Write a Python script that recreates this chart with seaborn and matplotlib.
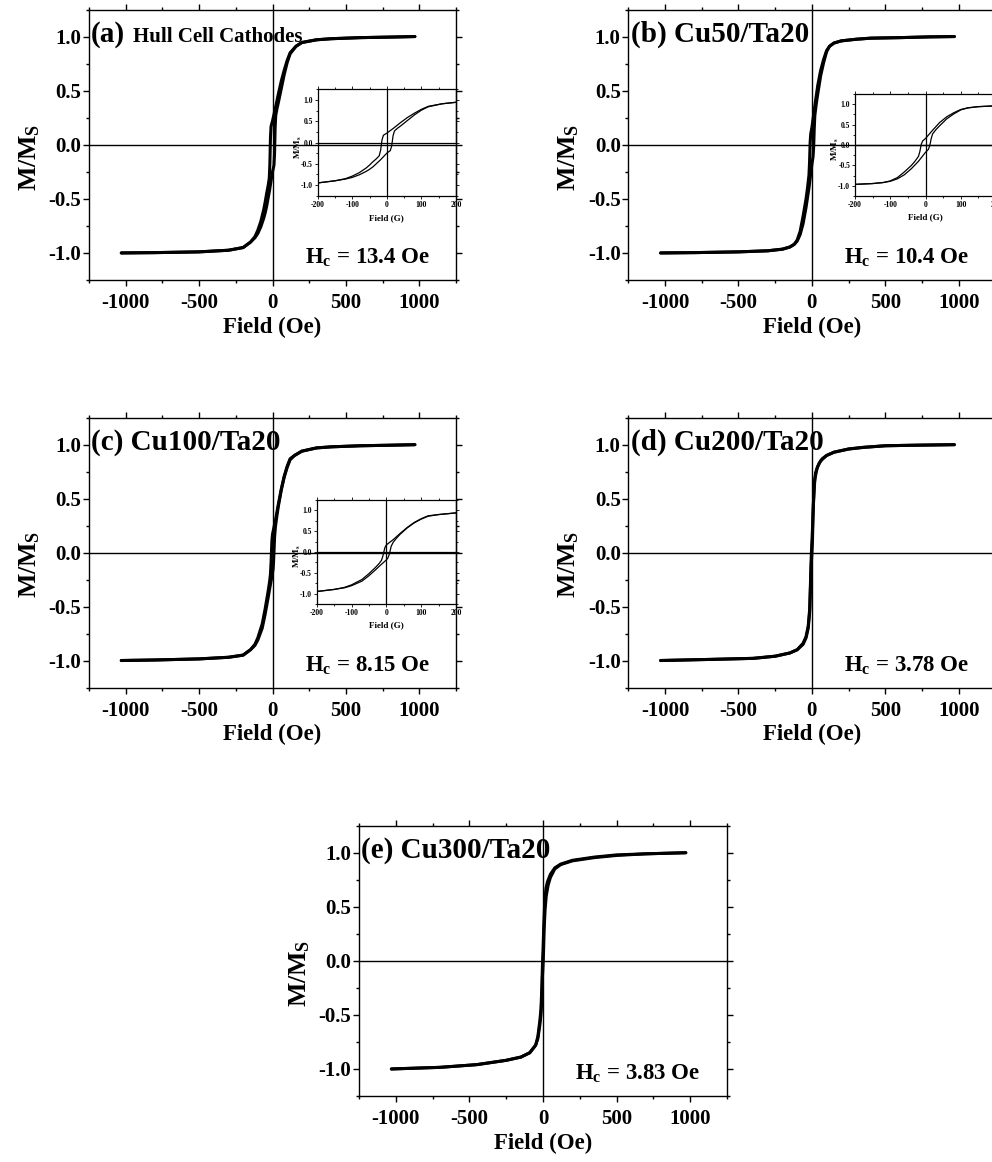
import matplotlib
matplotlib.use("Agg")
import matplotlib.pyplot as plt
from matplotlib.ticker import FixedLocator, MultipleLocator
import pandas as pd
import seaborn as sns

# ---------------- measured hysteresis branches (field in Oe, M/Ms) ----------------
# (a) Hull cell cathodes
a_h_desc = [970, 800, 600, 400, 300, 200, 160, 120, 100, 80, 60, 40, 20, 0, -10, -14, -18, -22, -30,
            -40, -50, -60, -80, -100, -120, -150, -200, -300, -500, -800, -1030]
a_m_desc = [1.00, 0.995, 0.99, 0.98, 0.97, 0.945, 0.91, 0.85, 0.78, 0.69, 0.59, 0.47, 0.34, 0.22, 0.17,
            0.06, -0.18, -0.31, -0.38, -0.45, -0.53, -0.60, -0.71, -0.79, -0.85, -0.90, -0.95, -0.975,
            -0.99, -0.997, -1.00]
a_h_asc = [-1030, -800, -500, -300, -200, -150, -120, -100, -80, -60, -50, -40, -20, 0, 10, 14, 18, 22,
           30, 40, 60, 80, 100, 120, 160, 200, 300, 400, 600, 800, 970]
a_m_asc = [-1.00, -0.997, -0.99, -0.975, -0.95, -0.90, -0.86, -0.82, -0.76, -0.68, -0.63, -0.57, -0.42,
           -0.25, -0.19, -0.08, 0.16, 0.27, 0.33, 0.39, 0.52, 0.65, 0.76, 0.84, 0.91, 0.945, 0.97, 0.98,
           0.99, 0.995, 1.00]

# (b) Cu50/Ta20
b_h_desc = [970, 800, 600, 400, 300, 200, 150, 120, 100, 80, 60, 40, 20, 0, -8, -12, -16, -20, -30, -40,
            -60, -80, -100, -120, -150, -200, -300, -500, -800, -1030]
b_m_desc = [1.00, 0.997, 0.99, 0.985, 0.975, 0.96, 0.94, 0.91, 0.87, 0.79, 0.69, 0.55, 0.36, 0.16, 0.10,
            0.02, -0.16, -0.28, -0.40, -0.50, -0.66, -0.80, -0.88, -0.92, -0.945, -0.965, -0.98, -0.99,
            -0.997, -1.00]
b_h_asc = [-1030, -800, -500, -300, -200, -150, -120, -100, -80, -60, -40, -20, 0, 8, 12, 16, 20, 30, 40,
           60, 80, 100, 120, 150, 200, 300, 400, 600, 800, 970]
b_m_asc = [-1.00, -0.997, -0.99, -0.98, -0.965, -0.945, -0.92, -0.89, -0.83, -0.73, -0.58, -0.40, -0.18,
           -0.11, -0.02, 0.15, 0.27, 0.38, 0.47, 0.64, 0.76, 0.86, 0.91, 0.94, 0.96, 0.975, 0.985, 0.99,
           0.997, 1.00]

# (c) Cu100/Ta20
c_h_desc = [970, 800, 600, 400, 300, 200, 150, 120, 100, 80, 60, 40, 20, 0, -4, -7, -10, -14, -20, -30,
            -50, -70, -100, -120, -150, -200, -300, -500, -800, -1030]
c_m_desc = [1.00, 0.995, 0.99, 0.98, 0.97, 0.94, 0.90, 0.87, 0.80, 0.71, 0.59, 0.45, 0.30, 0.17, 0.11,
            0.01, -0.10, -0.20, -0.27, -0.36, -0.52, -0.66, -0.79, -0.85, -0.90, -0.95, -0.97, -0.985,
            -0.995, -1.00]
c_h_asc = [-1030, -800, -500, -300, -200, -150, -120, -100, -70, -50, -30, -20, 0, 4, 7, 10, 14, 20, 30,
           40, 60, 80, 100, 120, 150, 200, 300, 400, 600, 800, 970]
c_m_asc = [-1.00, -0.995, -0.985, -0.97, -0.95, -0.90, -0.86, -0.81, -0.70, -0.57, -0.42, -0.34, -0.19,
           -0.15, -0.09, 0.00, 0.14, 0.24, 0.34, 0.43, 0.58, 0.70, 0.79, 0.86, 0.90, 0.94, 0.97, 0.98,
           0.99, 0.995, 1.00]

# (d) Cu200/Ta20
d_h_desc = [970, 700, 500, 350, 250, 150, 100, 70, 50, 35, 20, 10, 4, 0, -4, -8, -15, -25, -40, -60,
            -100, -150, -250, -400, -700, -1030]
d_m_desc = [1.00, 0.995, 0.99, 0.975, 0.96, 0.93, 0.90, 0.87, 0.83, 0.78, 0.68, 0.45, 0.22, 0.10, -0.02,
            -0.20, -0.52, -0.68, -0.78, -0.84, -0.90, -0.93, -0.96, -0.98, -0.99, -1.00]
d_h_asc = [-1030, -700, -400, -250, -150, -100, -60, -40, -25, -15, -8, -4, 0, 4, 8, 15, 25, 40, 60, 100,
           150, 250, 350, 500, 700, 970]
d_m_asc = [-1.00, -0.99, -0.98, -0.96, -0.93, -0.90, -0.85, -0.79, -0.70, -0.55, -0.25, -0.10, 0.00,
           0.12, 0.35, 0.62, 0.74, 0.80, 0.85, 0.90, 0.93, 0.96, 0.975, 0.99, 0.995, 1.00]

# (e) Cu300/Ta20
e_h_desc = [970, 700, 500, 350, 200, 120, 80, 50, 30, 20, 12, 6, 0, -4, -8, -14, -22, -35, -50, -90,
            -150, -250, -450, -700, -1030]
e_m_desc = [1.00, 0.99, 0.98, 0.96, 0.93, 0.895, 0.86, 0.80, 0.73, 0.67, 0.55, 0.35, 0.10, -0.05, -0.25,
            -0.45, -0.56, -0.70, -0.78, -0.85, -0.89, -0.92, -0.96, -0.985, -1.00]
e_h_asc = [-1030, -700, -450, -250, -150, -90, -50, -35, -22, -14, -8, -4, 0, 4, 8, 14, 22, 35, 50, 80,
           120, 200, 350, 500, 700, 970]
e_m_asc = [-1.00, -0.985, -0.96, -0.92, -0.89, -0.85, -0.78, -0.72, -0.60, -0.50, -0.35, -0.15, -0.05,
           0.10, 0.30, 0.47, 0.60, 0.70, 0.77, 0.85, 0.89, 0.925, 0.955, 0.975, 0.99, 1.00]

panel_titles = ["(a)", "(b) Cu50/Ta20", "(c) Cu100/Ta20", "(d) Cu200/Ta20", "(e) Cu300/Ta20"]
subtitle_a = "Hull Cell Cathodes"
coercivity = ["13.4", "10.4", "8.15", "3.78", "3.83"]

main_xticks = [-1000, -500, 0, 500, 1000]
main_yticks = [-1.0, -0.5, 0.0, 0.5, 1.0]
inset_xticks = [-200, -100, 0, 100, 200]

# ---------------- style ----------------
sns.set_theme(style="ticks")
plt.rcParams.update({
    "font.family": ["Liberation Serif", "DejaVu Serif"],
    "font.weight": "bold",
    "axes.labelweight": "bold",
    "mathtext.fontset": "custom",
    "mathtext.rm": "Liberation Serif:bold",
    "mathtext.bf": "Liberation Serif:bold",
    "mathtext.it": "Liberation Serif:bold:italic",
    "axes.unicode_minus": False,
    "axes.edgecolor": "black",
    "axes.linewidth": 1.0,
    "xtick.color": "black",
    "ytick.color": "black",
    "text.color": "black",
    "axes.labelcolor": "black",
})

W, H = 992, 1162
fig = plt.figure(figsize=(W / 100, H / 100), dpi=100)
fig.patch.set_facecolor("white")


def rect(left, top, right, bottom):
    return [left / W, 1 - bottom / H, (right - left) / W, (bottom - top) / H]


def loop_frame(h_desc, m_desc, h_asc, m_asc):
    return pd.concat([
        pd.DataFrame({"field": h_desc, "m": m_desc, "branch": "desc"}),
        pd.DataFrame({"field": h_asc, "m": m_asc, "branch": "asc"}),
    ], ignore_index=True)


def draw_main(box, df, title, hc):
    ax = fig.add_axes(rect(*box))
    ax.set_facecolor("white")
    ax.axhline(0, color="black", lw=1.0, zorder=1)
    ax.axvline(0, color="black", lw=1.0, zorder=1)
    sns.lineplot(data=df, x="field", y="m", units="branch", estimator=None, sort=False,
                 color="black", lw=2.2, ax=ax, zorder=3)
    ax.set_xlim(-1250, 1250)
    ax.set_ylim(-1.25, 1.25)
    ax.xaxis.set_major_locator(FixedLocator(main_xticks))
    ax.xaxis.set_minor_locator(MultipleLocator(250))
    ax.yaxis.set_major_locator(FixedLocator(main_yticks))
    ax.yaxis.set_minor_locator(MultipleLocator(0.25))
    ax.set_xticklabels([f"{v:d}" for v in main_xticks])
    ax.set_yticklabels([f"{v:.1f}" for v in main_yticks])
    ax.tick_params(which="both", direction="out", top=True, right=True, width=1.0)
    ax.tick_params(which="major", length=4, labelsize=15)
    ax.tick_params(which="minor", length=2.5)
    ax.tick_params(axis="x", which="major", pad=5.5)
    ax.tick_params(axis="y", which="major", pad=1.5)
    for s in ax.spines.values():
        s.set_linewidth(1.0)
        s.set_color("black")
    ax.set_xlabel("Field (Oe)", fontsize=16.5)
    ax.xaxis.set_label_coords(0.5, -0.135)
    ax.set_ylabel(r"$\mathbf{M/M_S}$", fontsize=18.5)
    ax.yaxis.set_label_coords(-0.128, 0.455)
    ax.text(0.006, 0.881, title, transform=ax.transAxes, fontsize=21, va="baseline", ha="left")
    ax.text(220, -1.1, r"$\mathbf{H_c}$" + f" = {hc} Oe", fontsize=16.5, va="baseline", ha="left")
    return ax


def draw_inset(box, df):
    ins = fig.add_axes(rect(*box))
    ins.set_facecolor("none")
    ins.axhline(0, color="black", lw=0.9, zorder=1)
    ins.axvline(0, color="black", lw=0.9, zorder=1)
    sns.lineplot(data=df, x="field", y="m", units="branch", estimator=None, sort=False,
                 color="black", lw=0.9, ax=ins, zorder=3)
    ins.set_xlim(-200, 200)
    ins.set_ylim(-1.25, 1.25)
    ins.xaxis.set_major_locator(FixedLocator(inset_xticks))
    ins.xaxis.set_minor_locator(MultipleLocator(50))
    ins.yaxis.set_major_locator(FixedLocator(main_yticks))
    ins.yaxis.set_minor_locator(MultipleLocator(0.25))
    ins.set_xticklabels([f"{v:d}" for v in inset_xticks])
    ins.set_yticklabels([f"{v:.1f}" for v in main_yticks])
    ins.tick_params(which="both", direction="out", top=True, right=True, width=0.6)
    ins.tick_params(which="major", length=2, labelsize=5.5, pad=1.5)
    ins.tick_params(which="minor", length=1.2)
    for s in ins.spines.values():
        s.set_linewidth(0.9)
        s.set_color("black")
    ins.set_xlabel("Field (G)", fontsize=6.5)
    ins.xaxis.set_label_coords(0.5, -0.17)
    ins.set_ylabel(r"$\mathbf{M/M_s}$", fontsize=6.5)
    ins.yaxis.set_label_coords(-0.1, 0.46)
    return ins


loops = [
    loop_frame(a_h_desc, a_m_desc, a_h_asc, a_m_asc),
    loop_frame(b_h_desc, b_m_desc, b_h_asc, b_m_asc),
    loop_frame(c_h_desc, c_m_desc, c_h_asc, c_m_asc),
    loop_frame(d_h_desc, d_m_desc, d_h_asc, d_m_asc),
    loop_frame(e_h_desc, e_m_desc, e_h_asc, e_m_asc),
]

main_boxes = [
    (89, 9.5, 456, 280),
    (628.3, 9.5, 995.5, 280),
    (89, 417.7, 456, 687.5),
    (628.3, 417.7, 995.5, 687.5),
    (359, 825.7, 727, 1096),
]
inset_boxes = {0: (317.7, 89.3, 456, 195.7), 1: (855, 94, 996, 196), 2: (316.7, 500, 456, 604)}

for i, (box, df) in enumerate(zip(main_boxes, loops)):
    ax = draw_main(box, df, panel_titles[i], coercivity[i])
    if i == 0:
        ax.text(0.12, 0.881, subtitle_a, transform=ax.transAxes, fontsize=15,
                va="baseline", ha="left")
    if i in inset_boxes:
        draw_inset(inset_boxes[i], df)

fig.savefig("out.png", dpi=100, facecolor="white")
